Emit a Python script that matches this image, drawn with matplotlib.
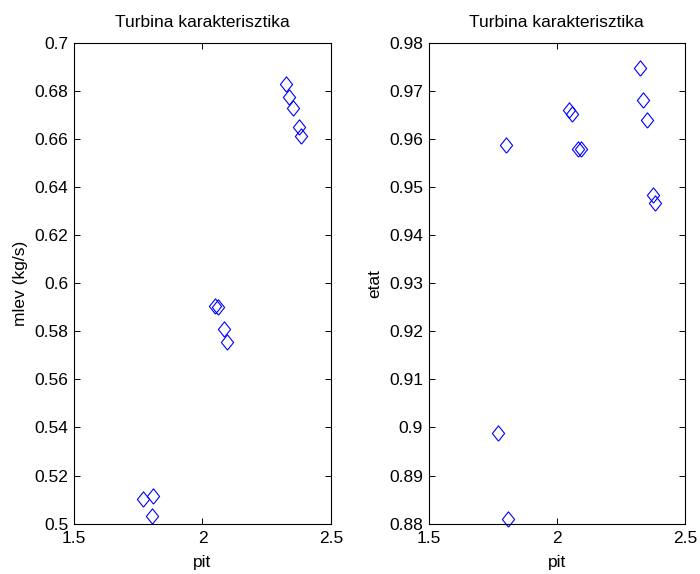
import numpy as np
import matplotlib
matplotlib.use("Agg")
import matplotlib.pyplot as plt
from matplotlib.ticker import FormatStrFormatter

plt.rcParams['font.family'] = ['Liberation Sans', 'DejaVu Sans']

# measured points (pit vs mlev and etat)
pit = [1.770, 1.809, 1.803, 2.049, 2.060, 2.084, 2.094, 2.325, 2.335, 2.351, 2.374, 2.385]
mlev = [0.5104, 0.5116, 0.5033, 0.5905, 0.5901, 0.5808, 0.5757, 0.6828, 0.6775, 0.6727, 0.6648, 0.6613]
etat = [0.8989, 0.8809, 0.9588, 0.9660, 0.9652, 0.9579, 0.9579, 0.9748, 0.9680, 0.9638, 0.9483, 0.9467]

x_ticks = [1.5, 2, 2.5]
mlev_ticks = np.arange(0.5, 0.7001, 0.02)
etat_ticks = np.arange(0.88, 0.9801, 0.01)

diamond = [(0, -1), (0.8, 0), (0, 1), (-0.8, 0), (0, -1)]

fig = plt.figure(figsize=(7, 5.74), dpi=100)
ax1 = fig.add_axes([0.1057, 0.0876, 0.3671, 0.8383])
ax2 = fig.add_axes([0.6124, 0.0876, 0.3661, 0.8383])

for ax, y, yt, ylab in [(ax1, mlev, mlev_ticks, 'mlev (kg/s)'),
                        (ax2, etat, etat_ticks, 'etat')]:
    ax.plot(pit, y, linestyle='none', marker=diamond, markersize=11,
            markerfacecolor='none', markeredgecolor='#0000ff', markeredgewidth=0.8,
            clip_on=False)
    ax.set_xlim(1.5, 2.5)
    ax.set_ylim(yt[0], yt[-1])
    ax.set_xticks(x_ticks)
    ax.set_yticks(yt)
    ax.xaxis.set_major_formatter(FormatStrFormatter('%g'))
    ax.yaxis.set_major_formatter(FormatStrFormatter('%g'))
    ax.tick_params(direction='in', length=4, width=0.7, top=True, right=True,
                   labelsize=12.5)
    ax.tick_params(axis='x', pad=5)
    ax.tick_params(axis='y', pad=4)
    for s in ax.spines.values():
        s.set_linewidth(0.8)
    ax.set_xlabel('pit', fontsize=12.5, labelpad=7)
    ax.set_ylabel(ylab, fontsize=12.5, labelpad=5)
    ax.set_title('Turbina karakterisztika', fontsize=12.5, pad=11)

fig.savefig('out.png', dpi=100)
